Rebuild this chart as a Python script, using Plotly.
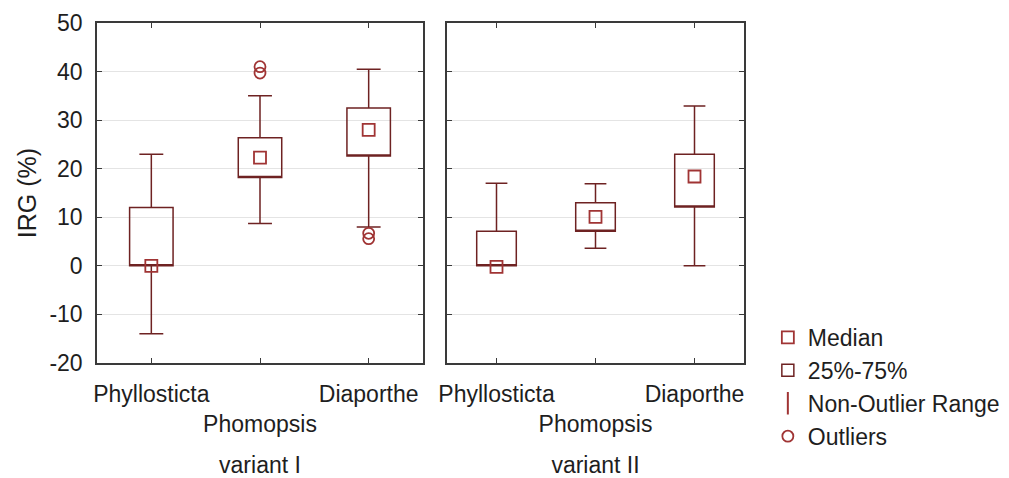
import plotly.graph_objects as go

# ---- data ----
categories = ["Phyllosticta", "Phomopsis", "Diaporthe"]
tick_labels = ["Phyllosticta", " <br>Phomopsis", "Diaporthe"]
variants = ["variant I", "variant II"]
y_tick_vals = [-20, -10, 0, 10, 20, 30, 40, 50]
y_tick_text = ["-20", "-10", "0", "10", "20", "30", "40", "50"]

v1_q1 = [0.0, 18.2, 22.6]
v1_median = [0.0, 22.3, 28.0]
v1_q3 = [12.0, 26.4, 32.5]
v1_low = [-14.0, 8.7, 8.0]
v1_high = [23.0, 35.0, 40.5]
v1_out_x = [1, 1, 2, 2]
v1_out_y = [39.7, 41.0, 6.7, 5.6]

v2_q1 = [0.0, 7.1, 12.1]
v2_median = [-0.2, 10.1, 18.4]
v2_q3 = [7.1, 13.0, 23.0]
v2_low = [0.0, 3.6, 0.0]
v2_high = [17.0, 16.9, 32.9]

legend_names = ["Median", "25%-75%", "Non-Outlier Range", "Outliers"]

# ---- styling ----
BOX_COL = "#6e2222"
RED = "#a03434"
FONT = "Liberation Sans, Arial, sans-serif"
TXT = "#1e1e1e"
FS = 23

fig = go.Figure()
pos = list(range(len(categories)))

panels = [
    ("x", "y", v1_q1, v1_median, v1_q3, v1_low, v1_high, v1_out_x, v1_out_y),
    ("x2", "y2", v2_q1, v2_median, v2_q3, v2_low, v2_high, [], []),
]

for i, (xa, ya, q1, med, q3, lo, hi, ox, oy) in enumerate(panels):
    first = i == 0
    # box + whiskers; the median is drawn separately as a square marker,
    # so the box's own median line is placed on the lower quartile edge
    fig.add_trace(go.Box(
        x=pos, q1=q1, median=q1, q3=q3, lowerfence=lo, upperfence=hi,
        width=0.4, whiskerwidth=0.55, boxpoints=False,
        fillcolor="rgba(255,255,255,0)",
        line=dict(color=BOX_COL, width=1.5),
        name=legend_names[1], showlegend=first, legendrank=2,
        xaxis=xa, yaxis=ya,
    ))
    fig.add_trace(go.Scatter(
        x=pos, y=med, mode="markers",
        marker=dict(symbol="square-open", size=12, color=RED,
                    line=dict(width=1.8, color=RED)),
        name=legend_names[0], showlegend=first, legendrank=1,
        xaxis=xa, yaxis=ya,
    ))
    if ox:
        fig.add_trace(go.Scatter(
            x=ox, y=oy, mode="markers",
            marker=dict(symbol="circle-open", size=11, color=RED,
                        line=dict(width=1.8, color=RED)),
            name=legend_names[3], showlegend=True, legendrank=4,
            xaxis=xa, yaxis=ya,
        ))

# legend entry for the whisker range
fig.add_trace(go.Scatter(
    x=[None], y=[None], mode="markers",
    marker=dict(symbol="line-ns-open", size=22, color=RED,
                line=dict(width=2, color=RED)),
    name=legend_names[2], showlegend=True, legendrank=3,
    xaxis="x", yaxis="y",
))

axis_common = dict(
    showline=True, mirror="ticks", linecolor="#3a3a3a", linewidth=1.5,
    ticks="inside", ticklen=5, tickwidth=1.2, tickcolor="#3a3a3a",
    zeroline=False, automargin=False,
)

xcommon = dict(
    axis_common, range=[-0.5, 2.5], tickvals=pos, ticktext=tick_labels,
    showgrid=False, tickfont=dict(size=FS, color=TXT, family=FONT),
    tickangle=0, ticklabelstandoff=10,
)
ycommon = dict(
    axis_common, range=[-20, 50], tickvals=y_tick_vals, ticktext=y_tick_text,
    showgrid=True, gridcolor="#e4e4e4", gridwidth=1,
    tickfont=dict(size=FS, color=TXT, family=FONT),
)

fig.update_layout(
    width=1009, height=478, autosize=False,
    margin=dict(l=0, r=0, t=0, b=0, autoexpand=False),
    paper_bgcolor="white", plot_bgcolor="white",
    font=dict(family=FONT, size=FS, color=TXT),
    xaxis=dict(xcommon, domain=[97 / 1009, 423 / 1009], anchor="y",
               title=dict(text=variants[0], standoff=24,
                          font=dict(size=FS, color=TXT))),
    xaxis2=dict(xcommon, domain=[447 / 1009, 744 / 1009], anchor="y2",
                title=dict(text=variants[1], standoff=24,
                           font=dict(size=FS, color=TXT))),
    yaxis=dict(ycommon, domain=[1 - 363 / 478, 1 - 23 / 478], anchor="x",
               ticklabelstandoff=8,
               title=dict(text="IRG (%)", standoff=6,
                          font=dict(size=25, color=TXT))),
    yaxis2=dict(ycommon, domain=[1 - 363 / 478, 1 - 23 / 478], anchor="x2",
                showticklabels=False, matches="y"),
    showlegend=True,
    legend=dict(x=0.761, y=1 - 316 / 478, xanchor="left", yanchor="top",
                font=dict(size=FS, color=TXT, family=FONT),
                bgcolor="rgba(0,0,0,0)", itemwidth=30,
                tracegroupgap=0),
)

fig.write_html("out.html")
